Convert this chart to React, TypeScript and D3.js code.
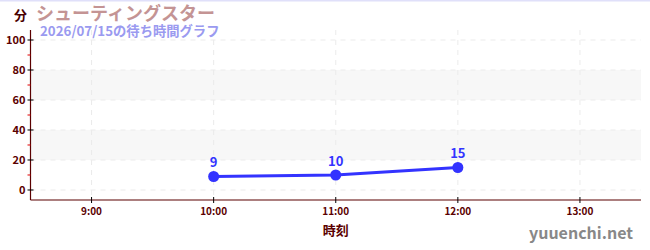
import React from "react";
import * as d3 from "d3";

const title = "シューティングスター";
const subtitle = "2026/07/15の待ち時間グラフ";
const yUnit = "分";
const xTitle = "時刻";
const credit = "yuuenchi.net";

const times = ["10:00", "11:00", "12:00"];
const waits = [9, 10, 15];
const xTickLabels = ["9:00", "10:00", "11:00", "12:00", "13:00"];
const yTicks = [0, 20, 40, 60, 80, 100];
const yMinorTicks = [10, 30, 50, 70, 90];
const bands = [[20, 40], [60, 80]];

const toH = (s: string) => {
  const [h, m] = s.split(":").map(Number);
  return h + m / 60;
};

const W = 650, H = 250;
const left = 30.5, right = 641, top = 30, bottom = 200;
const font = "'Noto Sans CJK JP', 'Noto Sans', sans-serif";
const axisColor = "#5a0000";

export default function App() {
  const x = d3.scaleLinear().domain([8.5, 13.5]).range([left, right]);
  const y = d3.scaleLinear().domain([-6.667, 106.667]).range([bottom, top]);
  const pts = times.map((t, i) => [x(toH(t)), y(waits[i])] as [number, number]);
  const line = d3.line()(pts) || "";

  return (
    <svg width={W} height={H} style={{ position: "absolute", left: 0, top: 0 }} fontFamily={font}>
      <rect x={0} y={0} width={W} height={H} fill="#fff" />
      <line x1={0} x2={W} y1={0.5} y2={0.5} stroke="#e0e0fa" strokeWidth={2} />
      {bands.map(([a, b], i) => (
        <rect key={i} x={left} width={right - left} y={y(b)} height={y(a) - y(b)} fill="#f7f7f7" />
      ))}
      {yTicks.map((v) => (
        <line key={"gy" + v} x1={left} x2={right} y1={y(v)} y2={y(v)} stroke="#ebebeb" strokeDasharray="5,5" />
      ))}
      {xTickLabels.map((t) => (
        <line key={"gx" + t} x1={x(toH(t))} x2={x(toH(t))} y1={top} y2={bottom} stroke="#ebebeb" strokeDasharray="5,5" />
      ))}
      <line x1={left} x2={left} y1={top} y2={bottom} stroke={axisColor} strokeWidth={1.2} />
      <line x1={left} x2={right} y1={bottom} y2={bottom} stroke={axisColor} strokeWidth={1.2} />
      {yTicks.map((v) => (
        <g key={"ty" + v}>
          <line x1={left - 3} x2={left + 3} y1={y(v)} y2={y(v)} stroke="#000" />
          <text x={left - 5} y={y(v)} dy="0.35em" textAnchor="end" fontSize={11} fontWeight="bold" fill={axisColor}>{v}</text>
        </g>
      ))}
      {yMinorTicks.map((v) => (
        <line key={"my" + v} x1={left - 3} x2={left} y1={y(v)} y2={y(v)} stroke="#e00000" />
      ))}
      {xTickLabels.map((t) => (
        <g key={"tx" + t}>
          <line x1={x(toH(t))} x2={x(toH(t))} y1={bottom - 3} y2={bottom + 3} stroke="#000" />
          <text x={x(toH(t))} y={bottom + 15} textAnchor="middle" fontSize={10} fontWeight="bold" fill={axisColor}>{t}</text>
        </g>
      ))}
      <text x={(left + right) / 2} y={235} textAnchor="middle" fontSize={13} fontWeight="bold" fill={axisColor}>{xTitle}</text>
      <path d={line} fill="none" stroke="#3333ff" strokeWidth={3} />
      {pts.map(([px, py], i) => (
        <g key={"p" + i}>
          <circle cx={px} cy={py} r={5.5} fill="#3333ff" />
          <text x={px} y={py - 9} textAnchor="middle" fontSize={13} fontWeight="bold" fill="#3333ff">{waits[i]}</text>
        </g>
      ))}
      <text x={14} y={20} fontSize={13} fontWeight="bold" fill="#4a0000">{yUnit}</text>
      <text x={36} y={20} fontSize={18} fontWeight="bold" fill="#c49494">{title}</text>
      <text x={40} y={36} fontSize={13.3} fontWeight="bold" fill="#9a9af0">{subtitle}</text>
      <text x={633} y={239} textAnchor="end" fontSize={16} fontWeight="bold" fill="#888">{credit}</text>
    </svg>
  );
}
